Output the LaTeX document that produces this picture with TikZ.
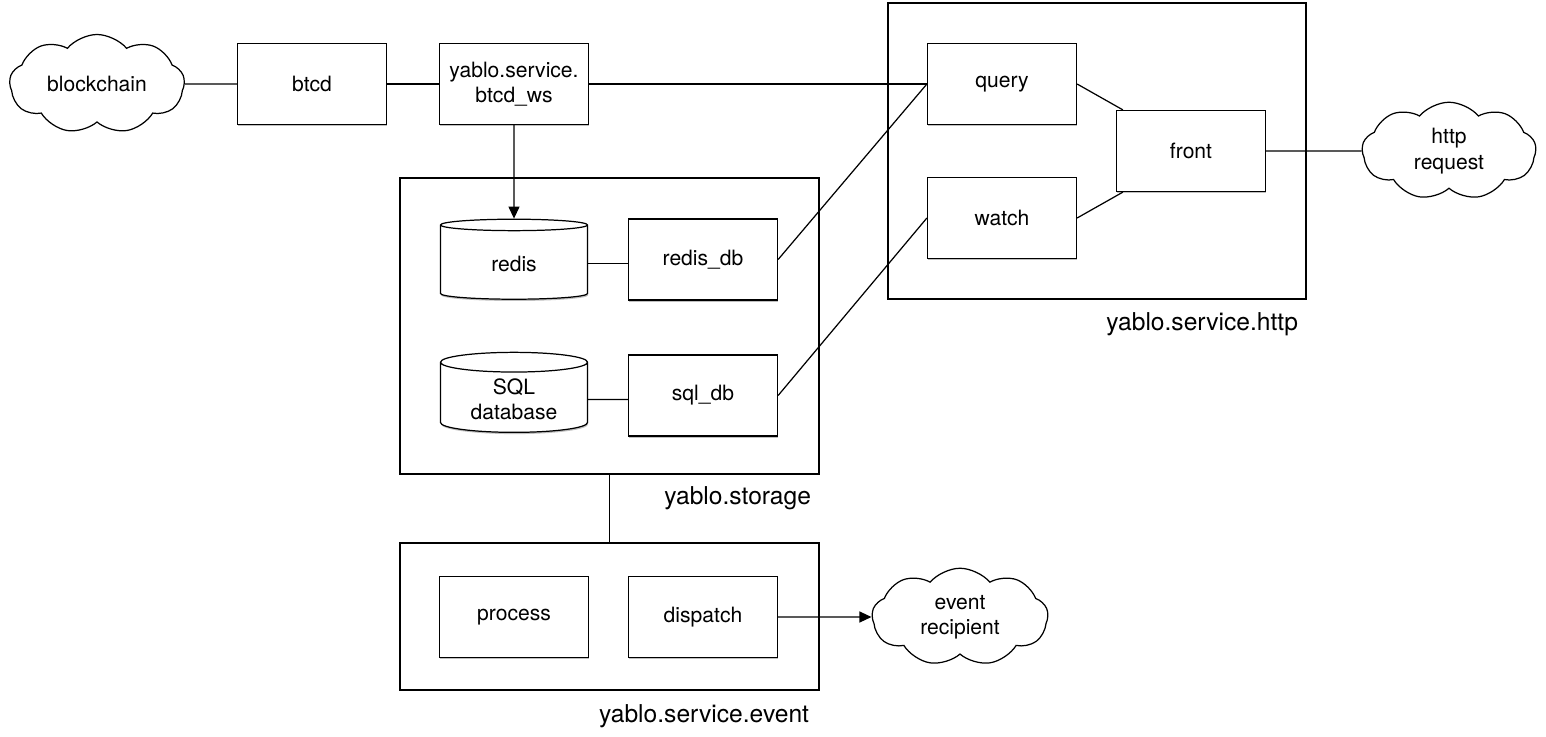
\documentclass[tikz,border=0pt]{standalone}
\usepackage{fontspec}
\setmainfont{TeX Gyre Heros}
\usepackage{tikz}
\usetikzlibrary{calc, positioning, arrows.meta, shapes, shapes.geometric, shapes.symbols, shadows}

\begin{document}
\begin{tikzpicture}[-, >={Triangle[length=2.4mm,width=2.2mm]}, auto, node distance = 3.78cm, line width=0.7pt,
		font=\fontsize{12}{14.5}\selectfont]
			\tikzstyle{module}=[rectangle, draw=black, fill=white, minimum width=2.98cm, minimum height=1.62cm, align=center,
				drop shadow={shadow xshift=0.4pt, shadow yshift=-1pt, fill=black, opacity=0.25}]
			\tikzstyle{store}=[cylinder, shape border rotate=90, aspect=0.2, draw=black, fill=white, minimum width=2.94cm, minimum height=1.6cm, align=center,
				drop shadow={shadow xshift=0.4pt, shadow yshift=-1pt, fill=black, opacity=0.25}]
			\tikzstyle{outside}=[cloud, cloud puffs=9, cloud puff arc=100, cloud ignores aspect, draw=black, fill=white, minimum width=3.5cm, minimum height=1.98cm, align=center, inner sep=0pt]
			\tikzstyle{package}=[rectangle, draw=black, minimum width=8.38cm]
			\tikzstyle{package label}=[anchor=east, inner sep=0pt, font=\fontsize{14}{17}\selectfont]
			\useasboundingbox (0,0) rectangle (30.92,-14.72);

			% packages
			\node[package, minimum height=5.92cm] (storage) at (12.19,-6.52) {};
			\node[package, minimum height=5.92cm, minimum width=8.36cm] (http) at (21.94,-3.02) {};
			\node[package, minimum height=2.94cm] (event) at (12.19,-12.33) {};
			\node[package label] (storage-label) at ($(storage.south east)+(-0.16,-0.48)$) {yablo.storage};
			\node[package label] (http-label) at ($(http.south east)+(-0.16,-0.5)$) {yablo.service.http};
			\node[package label] (event-label) at ($(event.south east)+(-0.2,-0.52)$) {yablo.service.event};

			% feed
			\node[outside] (blockchain) at (1.94,-1.68) {blockchain};
			\node[module] (btcd) at (6.24,-1.68) {btcd};
			\node[module] (btcd-ws) [right of=btcd, xshift=0.26cm] {yablo.service.\\btcd\_ws};

			% storage
			\node[store] (redis) [below of=btcd-ws, yshift=0.19cm] {redis};
			\node[module] (redis-db) [right of=redis, yshift=0.08cm] {redis\_db};
			\node[store] (sql) [below of=redis, yshift=1.06cm] {SQL\\database};
			\node[module] (sql-db) [right of=sql, yshift=0.08cm] {sql\_db};

			% http
			\node[module] (query) at (20.04,-1.68) {query};
			\node[module] (watch) at (20.04,-4.36) {watch};
			\node[module] (front) at (23.82,-3.02) {front};
			\node[outside, minimum width=3.48cm, minimum height=1.95cm] (request) at (28.98,-3.02) {http\\request};

			% event
			\node[module] (process) at (10.28,-12.34) {process};
			\node[module] (dispatch) [right of=process] {dispatch};
			\node[outside, minimum width=3.52cm, minimum height=1.95cm] (recipient) at (19.2,-12.34) {event\\recipient};

			\draw (blockchain) -- (btcd);
			\draw (btcd) -- (btcd-ws);
			\draw (btcd-ws) -- (query);
			\draw[->] (btcd-ws) -- (redis);
			\draw (redis) -- (redis.east -| redis-db.west);
			\draw (sql) -- (sql.east -| sql-db.west);
			\draw (redis-db.east) -- (query.west);
			\draw (sql-db.east) -- (watch.west);
			\draw (query.east) -- ($(front.north west)+(0.14,0)$);
			\draw (watch.east) -- ($(front.south west)+(0.14,0)$);
			\draw (front) -- (request);
			\draw (storage) -- (event);
			\draw[->] (dispatch) -- (recipient);
		\end{tikzpicture}
\end{document}
